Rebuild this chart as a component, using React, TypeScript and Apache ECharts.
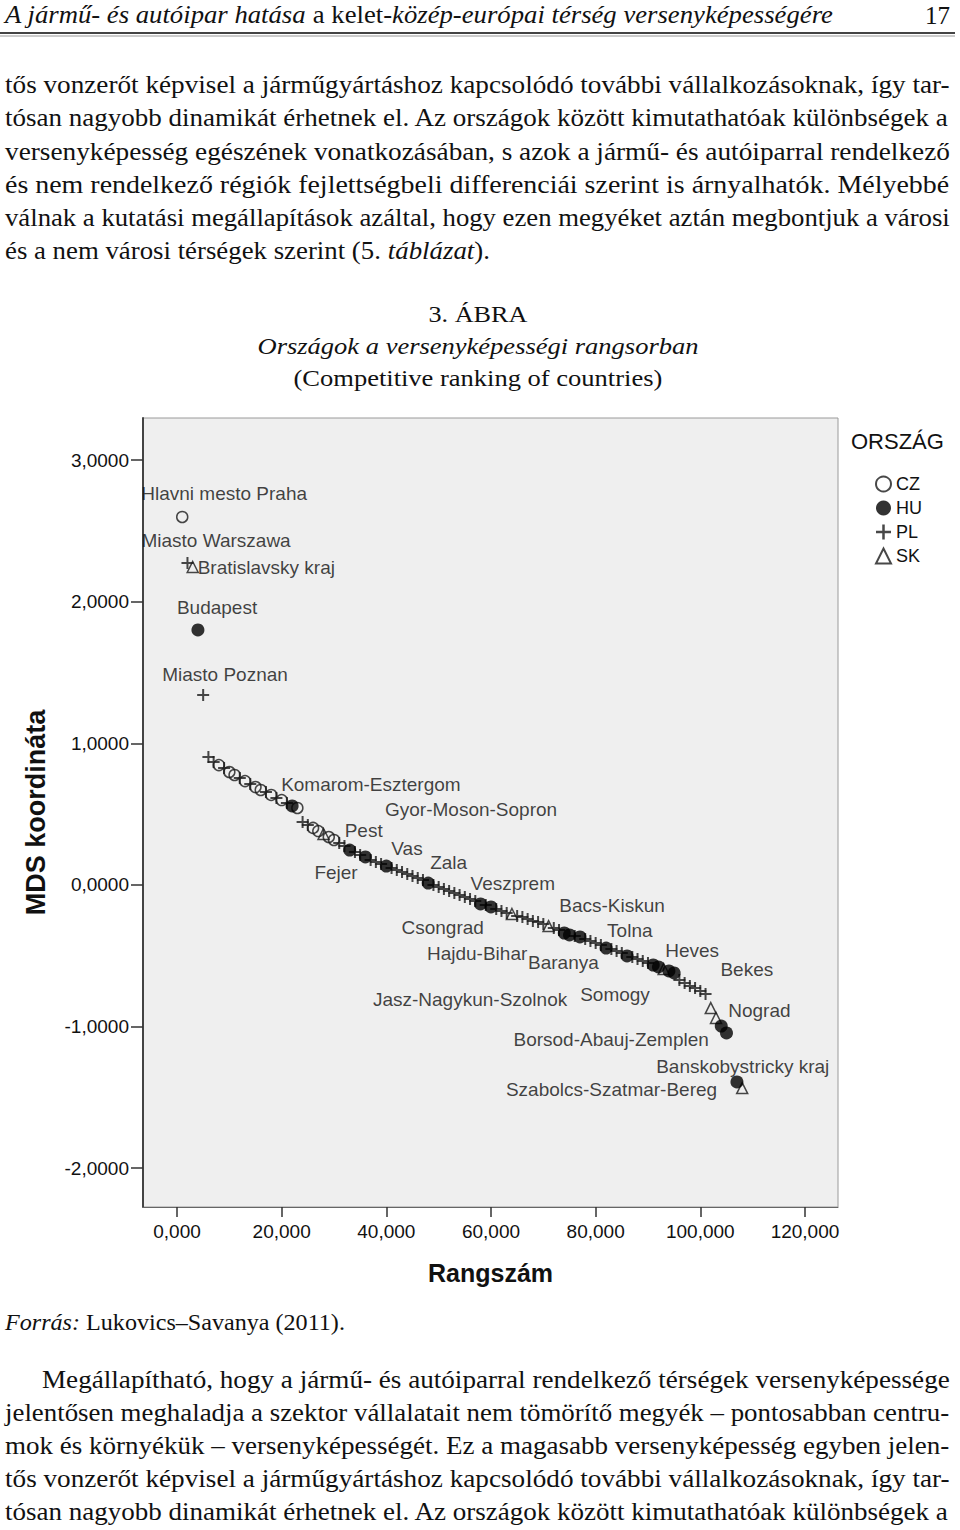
import React, { useEffect, useRef } from "react";
import * as echarts from "echarts";

// ---------- data: [rank, MDS coordinate] ----------
const czPoints = [
  [1, 2.599], [8, 0.847], [10, 0.798], [11, 0.777], [13, 0.734], [15, 0.692], [16, 0.671],
  [18, 0.636], [20, 0.6], [23, 0.544], [26, 0.403], [27, 0.381], [29, 0.339], [30, 0.318],
];
const huPoints = [
  [4, 1.801], [22, 0.558], [33, 0.247], [36, 0.198], [40, 0.134], [48, 0.014], [58, -0.134],
  [60, -0.155], [74, -0.339], [75, -0.353], [77, -0.367], [82, -0.445], [86, -0.501],
  [91, -0.565], [92, -0.579], [94, -0.607], [95, -0.621], [104, -0.996], [105, -1.045], [107, -1.391],
];
const plPoints = [
  [2, 2.274], [5, 1.342], [6, 0.904], [7, 0.869], [9, 0.826], [12, 0.756], [14, 0.713], [17, 0.657],
  [19, 0.614], [21, 0.579], [24, 0.445], [25, 0.424], [31, 0.297], [32, 0.275], [34, 0.233],
  [35, 0.212], [37, 0.177], [38, 0.162], [39, 0.148], [41, 0.12], [42, 0.106], [43, 0.092],
  [44, 0.078], [45, 0.064], [46, 0.049], [47, 0.035], [49, 0.0], [50, -0.014], [51, -0.028],
  [52, -0.042], [53, -0.056], [54, -0.071], [55, -0.085], [56, -0.099], [57, -0.113], [59, -0.141],
  [61, -0.169], [62, -0.184], [63, -0.198], [65, -0.219], [66, -0.226], [67, -0.24], [68, -0.254],
  [69, -0.261], [70, -0.275], [72, -0.304], [73, -0.318], [76, -0.36], [78, -0.381], [79, -0.395],
  [80, -0.41], [81, -0.424], [83, -0.452], [84, -0.466], [85, -0.48], [87, -0.508], [88, -0.523],
  [89, -0.537], [90, -0.551], [96, -0.671], [97, -0.692], [98, -0.713], [99, -0.727], [100, -0.749],
  [101, -0.77],
];
const skPoints = [
  [3, 2.246], [28, 0.36], [64, -0.205], [71, -0.29], [93, -0.593], [102, -0.869], [103, -0.939], [108, -1.434],
];

// labelled regions: [name, rank]
const pointLabels: [string, number][] = [
  ["Hlavni mesto Praha", 1], ["Miasto Warszawa", 2], ["Bratislavsky kraj", 3], ["Budapest", 4],
  ["Miasto Poznan", 5], ["Komarom-Esztergom", 22], ["Gyor-Moson-Sopron", 60], ["Pest", 33],
  ["Fejer", 36], ["Vas", 40], ["Zala", 48], ["Veszprem", 58], ["Bacs-Kiskun", 74],
  ["Csongrad", 75], ["Hajdu-Bihar", 77], ["Tolna", 82], ["Baranya", 86], ["Heves", 91],
  ["Bekes", 92], ["Jasz-Nagykun-Szolnok", 94], ["Somogy", 95], ["Nograd", 104],
  ["Borsod-Abauj-Zemplen", 105], ["Szabolcs-Szatmar-Bereg", 107], ["Banskobystricky kraj", 108],
];
// label offsets (px) relative to each labelled point, same order as pointLabels
const labelOffsets = [
  [-41, -23], [-46, -22], [5, 1], [-21, -22], [-41, -20], [-11, -21], [-106, -97], [-5, -20],
  [-51, 16], [5, -18], [2, -21], [-10, -20], [-5, -28], [-168, -7], [-153, 17], [1, -18],
  [-99, 7], [12, -15], [62, 3], [-296, 29], [-94, 22], [7, -16], [-213, 7], [-231, 8], [-86, -22],
];

const xTicks = [0, 20, 40, 60, 80, 100, 120];
const yTicks = [-2, -1, 0, 1, 2, 3];
const countries = ["CZ", "HU", "PL", "SK"];

// ---------- page text ----------
type Run = [string, boolean];
const headerRuns: Run[] = [
  ["A jármű- és autóipar hatása", true],
  [" a kelet-", false],
  ["közép-európai térség versenyképességére", true],
];
const topLines: Run[][] = [
  [["tős vonzerőt képvisel a járműgyártáshoz kapcsolódó további vállalkozásoknak, így tar-", false]],
  [["tósan nagyobb dinamikát érhetnek el. Az országok között kimutathatóak különbségek a", false]],
  [["versenyképesség egészének vonatkozásában, s azok a jármű- és autóiparral rendelkező", false]],
  [["és nem rendelkező régiók fejlettségbeli differenciái szerint is árnyalhatók. Mélyebbé", false]],
  [["válnak a kutatási megállapítások azáltal, hogy ezen megyéket aztán megbontjuk a városi", false]],
  [["és a nem városi térségek szerint (5. ", false], ["táblázat", true], [").", false]],
];
const bottomLines: Run[][] = [
  [["Megállapítható, hogy a jármű- és autóiparral rendelkező térségek versenyképessége", false]],
  [["jelentősen meghaladja a szektor vállalatait nem tömörítő megyék – pontosabban centru-", false]],
  [["mok és környékük – versenyképességét. Ez a magasabb versenyképesség egyben jelen-", false]],
  [["tős vonzerőt képvisel a járműgyártáshoz kapcsolódó további vállalkozásoknak, így tar-", false]],
  [["tósan nagyobb dinamikát érhetnek el. Az országok között kimutathatóak különbségek a", false]],
];
const captionLines: Run[][] = [
  [["3. ÁBRA", false]],
  [["Országok a versenyképességi rangsorban", true]],
  [["(Competitive ranking of countries)", false]],
];
const sourceRuns: Run[] = [["Forrás:", true], [" Lukovics–Savanya (2011).", false]];

const SERIF = '"Liberation Serif", "Times New Roman", serif';
const SANS = '"Liberation Sans", Arial, sans-serif';

export default function App() {
  const ref = useRef<HTMLDivElement>(null);

  useEffect(() => {
    if (!ref.current) return;
    const chart = echarts.init(ref.current, null, { renderer: "svg" });

    const ctx = document.createElement("canvas").getContext("2d")!;
    const measure = (runs: Run[], size: number) =>
      runs.reduce((s, [t, it]) => {
        ctx.font = `${it ? "italic " : ""}${size}px "Liberation Serif"`;
        return s + ctx.measureText(t).width;
      }, 0);

    const textLine = (
      runs: Run[],
      x: number,
      y: number,
      size: number,
      align: "left" | "center" | "right",
      target?: number
    ) => {
      const w = measure(runs, size);
      const scale = target ? target / w : 1;
      const ww = w * scale;
      const left = align === "left" ? x : align === "center" ? x - ww / 2 : x - ww;
      const text = runs.map(([t, it]) => (it ? `{i|${t}}` : t)).join("");
      return {
        type: "text",
        x: left,
        y,
        scaleX: scale,
        silent: true,
        style: {
          text,
          fontSize: size,
          fontFamily: SERIF,
          fill: "#111",
          verticalAlign: "middle",
          textVerticalAlign: "middle",
          rich: { i: { fontStyle: "italic", fontSize: size, fontFamily: SERIF, fill: "#111", color: "#111" } },
        },
      };
    };

    const graphics: any[] = [];
    graphics.push(textLine(headerRuns, 5, 15, 25, "left", 828));
    graphics.push(textLine([["17", false]], 950, 15, 25, "right"));
    graphics.push({ type: "line", silent: true, shape: { x1: 0, y1: 33, x2: 955, y2: 33 }, style: { stroke: "#444", lineWidth: 2 } });
    graphics.push({ type: "line", silent: true, shape: { x1: 0, y1: 36, x2: 955, y2: 36 }, style: { stroke: "#999", lineWidth: 1 } });
    topLines.forEach((runs, i) => {
      const last = i === topLines.length - 1;
      graphics.push(textLine(runs, 5, 85 + i * 33.2, 25, "left", last ? 485 : 945));
    });
    const capTargets = [99, 441, 369];
    captionLines.forEach((runs, i) => {
      graphics.push(textLine(runs, 478, [314, 345, 377][i], 24, "center", capTargets[i]));
    });
    graphics.push(textLine(sourceRuns, 5, 1322, 24, "left", 340));
    bottomLines.forEach((runs, i) => {
      const x0 = i === 0 ? 42 : 5;
      graphics.push(textLine(runs, x0, 1380 + i * 33, 25, "left", 950 - x0));
    });
    graphics.push({
      type: "text",
      x: 851,
      y: 441,
      silent: true,
      style: { text: "ORSZÁG", fontSize: 22, fontFamily: SANS, fill: "#111", verticalAlign: "middle", textVerticalAlign: "middle" },
    });

    const allPoints = [...czPoints, ...huPoints, ...plPoints, ...skPoints];
    const labelData = pointLabels.map(([name, rank], i) => {
      const p = allPoints.find((q) => q[0] === rank)!;
      return { name, value: p, label: { offset: labelOffsets[i] } };
    });

    const hollow = { color: "rgba(0,0,0,0)", borderColor: "#1a1a1a", borderWidth: 1.5 };
    const crossPath = "path://M5,0H7V12H5Z M0,5H12V7H0Z";

    const option: any = {
      animation: false,
      backgroundColor: "#ffffff",
      textStyle: { fontFamily: SANS },
      grid: {
        left: 143,
        top: 418,
        width: 695,
        height: 789,
        show: true,
        backgroundColor: "#efefef",
        borderColor: "#9a9a9a",
        borderWidth: 1,
      },
      legend: {
        orient: "vertical",
        left: 870,
        top: 470,
        itemWidth: 15,
        itemHeight: 15,
        itemGap: 6,
        selectedMode: false,
        data: countries,
        textStyle: { fontSize: 18, color: "#111", fontFamily: SANS, padding: [0, 0, 0, 0] },
      },
      xAxis: {
        type: "value",
        min: -6.497,
        max: 126.31,
        splitLine: { show: false },
        axisLine: { show: true, onZero: false, lineStyle: { color: "#666", width: 1 } },
        axisTick: { show: true, length: 10, customValues: xTicks, lineStyle: { color: "#333", width: 1.5 } },
        axisLabel: {
          customValues: xTicks,
          margin: 15,
          fontSize: 19,
          color: "#111",
          fontFamily: SANS,
          formatter: (v: number) => v.toFixed(3).replace(".", ","),
        },
        name: "Rangszám",
        nameLocation: "middle",
        nameGap: 66,
        nameTextStyle: { fontSize: 25, fontWeight: "bold", color: "#111", fontFamily: SANS, verticalAlign: "middle" },
      },
      yAxis: {
        type: "value",
        min: -2.274,
        max: 3.298,
        splitLine: { show: false },
        axisLine: { show: true, onZero: false, lineStyle: { color: "#444", width: 2 } },
        axisTick: { show: true, length: 12, customValues: yTicks, lineStyle: { color: "#333", width: 1.5 } },
        axisLabel: {
          customValues: yTicks,
          margin: 14,
          fontSize: 19,
          color: "#111",
          fontFamily: SANS,
          formatter: (v: number) => v.toFixed(4).replace(".", ","),
        },
        name: "MDS koordináta",
        nameLocation: "middle",
        nameRotate: 90,
        nameGap: 107,
        nameTextStyle: { fontSize: 27, fontWeight: "bold", color: "#111", fontFamily: SANS, verticalAlign: "middle" },
      },
      series: [
        { name: "CZ", type: "scatter", data: czPoints, symbol: "circle", symbolSize: 11, itemStyle: hollow, z: 2 },
        { name: "PL", type: "scatter", data: plPoints, symbol: crossPath, symbolSize: 12, itemStyle: { color: "#1a1a1a" }, z: 3 },
        { name: "SK", type: "scatter", data: skPoints, symbol: "triangle", symbolSize: 11, itemStyle: hollow, z: 4 },
        { name: "HU", type: "scatter", data: huPoints, symbol: "circle", symbolSize: 13, itemStyle: { color: "#000" }, z: 5 },
        {
          name: "labels",
          type: "scatter",
          data: labelData,
          symbolSize: 1,
          silent: true,
          itemStyle: { color: "rgba(0,0,0,0)" },
          z: 10,
          label: {
            show: true,
            position: "inside",
            align: "left",
            verticalAlign: "middle",
            formatter: "{b}",
            fontSize: 19,
            fontFamily: SANS,
            color: "#111",
          },
        },
      ],
      graphic: graphics,
    };

    chart.setOption(option);
    return () => chart.dispose();
  }, []);

  return <div ref={ref} style={{ position: "absolute", left: 0, top: 0, width: 960, height: 1530 }} />;
}
